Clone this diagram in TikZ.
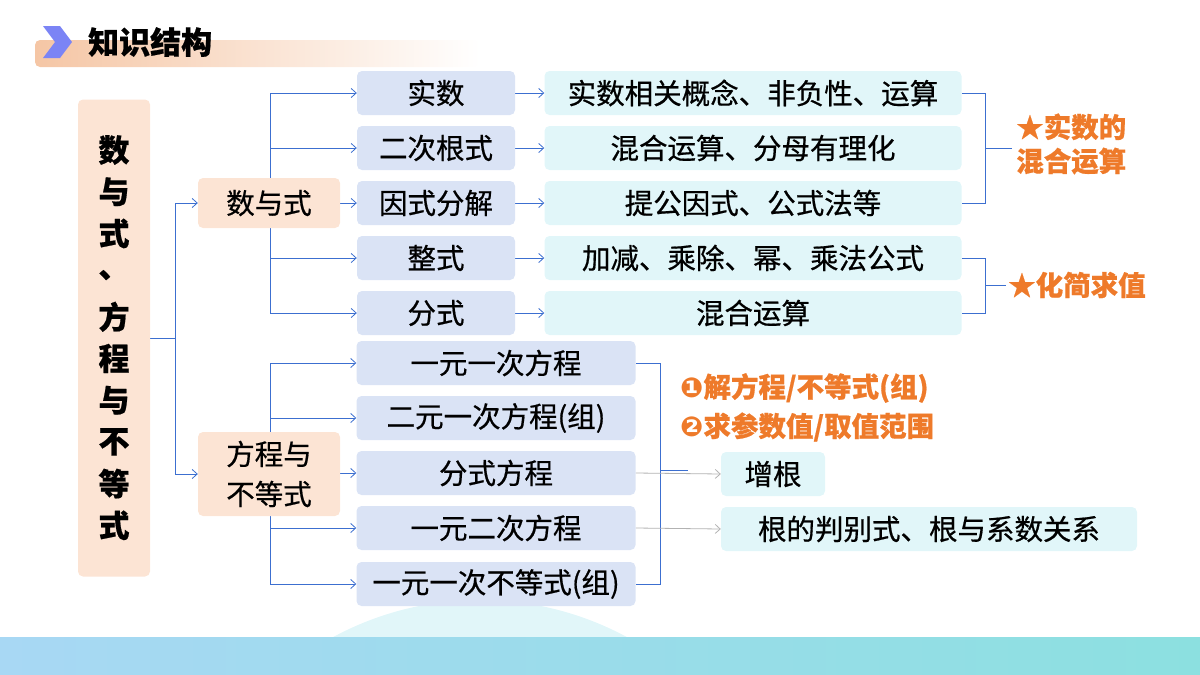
\documentclass[tikz,border=0pt]{standalone}
\usepackage{fontspec}
\setmainfont{Noto Sans CJK SC}[FakeBold=0.6]
\newfontfamily\djvfont{DejaVu Sans}
\usetikzlibrary{arrows.meta}
\pgfdeclarelayer{bg}
\pgfsetlayers{bg,main}
\definecolor{bl}{HTML}{3C6FD0}
\definecolor{orn}{HTML}{EE7A2A}
\definecolor{pk}{HTML}{FCE4D4}
\definecolor{lb}{HTML}{DAE3F5}
\definecolor{cy}{HTML}{E1F6F9}
\definecolor{bandl}{HTML}{A8D8F4}
\definecolor{bandr}{HTML}{8CE0E0}
\definecolor{peach}{HTML}{F5C6A5}
\tikzset{
 bx/.style={rounded corners=5pt,inner sep=0pt,font=\fontsize{28.5}{30}\selectfont},
 lv/.style={bx,fill=lb,minimum width=158pt,minimum height=44pt},
 lw/.style={bx,fill=lb,minimum width=279pt,minimum height=44pt},
 rt/.style={bx,fill=cy,minimum width=417pt,minimum height=44pt},
 pkb/.style={bx,fill=pk,minimum width=142pt},
 ln/.style={draw=bl,line width=0.8pt},
 ar/.style={ln,-{Straight Barb[length=5pt,width=9pt]}},
 ga/.style={draw=gray!60,line width=0.8pt,-{Straight Barb[length=5pt,width=9pt]}},
 ot/.style={text=orn,font=\fontsize{27.5}{32}\selectfont\bfseries,inner sep=0pt,anchor=west}
}
\begin{document}
\begin{tikzpicture}[x=1pt,y=-1pt]
\useasboundingbox (0,0) rectangle (1200,675);
% background
\begin{scope}
\clip (0,0) rectangle (1200,637);
\fill[cy] (480,909) circle (309);
\end{scope}
\shade[left color=bandl, right color=bandr] (0,637) rectangle (1200,675);
% title
\shade[rounded corners=5pt,left color=peach,right color=white] (35,40) rectangle (480,67);
\fill[color={rgb,255:red,123;green,132;blue,245}] (43,26) -- (60,26) -- (72,42) -- (60,58) -- (43,58) -- (55,42) -- cycle;
\node[anchor=west,inner sep=0pt,font=\fontsize{31}{32}\selectfont\bfseries] (title) at (88,42) {知识结构};
% root
\node[pkb,minimum width=72pt,minimum height=477pt] (root) at (114,338) {};
\foreach \c [count=\i from 0] in {数,与,式,、,方,程,与,不,等,式}
  \node[font=\fontsize{31}{32}\selectfont\bfseries,inner sep=0pt] at (114,{150+\i*41.7}) {\c};
\node[pkb,minimum height=50pt] (s) at (269,203) {数与式};
\node[pkb,minimum height=84pt,align=center,font=\fontsize{28.5}{40}\selectfont] (f) at (269,474) {方程与\\不等式};
% level 2 top
\node[lv] (a1) at (436,93) {实数};
\node[lv] (a2) at (436,148) {二次根式};
\node[lv] (a3) at (436,203) {因式分解};
\node[lv] (a4) at (436,258) {整式};
\node[lv] (a5) at (436,313) {分式};
\node[rt] (r1) at (753,93) {实数相关概念、非负性、运算};
\node[rt] (r2) at (753,148) {混合运算、分母有理化};
\node[rt] (r3) at (753,203) {提公因式、公式法等};
\node[rt] (r4) at (753,258) {加减、乘除、幂、乘法公式};
\node[rt] (r5) at (753,313) {混合运算};
% level 2 bottom
\node[lw] (b1) at (496,363) {一元一次方程};
\node[lw] (b2) at (496,418) {二元一次方程(组)};
\node[lw] (b3) at (496,473) {分式方程};
\node[lw] (b4) at (496,528) {一元二次方程};
\node[lw] (b5) at (496,584) {一元一次不等式(组)};
\node[bx,fill=cy,minimum width=104pt,minimum height=44pt] (z) at (773,474) {增根};
\node[rt,minimum width=416pt] (g) at (929,529) {根的判别式、根与系数关系};
% connectors
\begin{pgfonlayer}{bg}
\coordinate (j0) at (175,338);
\draw[ln] (root.east|-j0) -- (j0);
\draw[ar] (j0) |- (s.west);
\draw[ar] (j0) |- (f.west);
\foreach \n in {a1,a2,a4,a5} \draw[ar] (270,203) |- (\n.west);
\draw[ar] (s.east) -- (a3.west);
\foreach \n in {b1,b2,b3,b4,b5} \draw[ar] (270,473) |- (\n.west);
\foreach \i in {1,...,5} \draw[ar] (a\i.east) -- (r\i.west);
\draw[ln] (r1.east) -- (985,93) -- (985,203) -- (r3.east);
\draw[ln] (985,148) -- (1012,148);
\draw[ln] (r4.east) -- (985,258) -- (985,313) -- (r5.east);
\draw[ln] (985,285) -- (1006,285);
\draw[ln] (b1.east) -- (660,363) -- (660,584) -- (b5.east);
\draw[ln] (660,470) -- (688,470);
\draw[ga] (b3.east) -- (z.west);
\draw[ga] (b4.east) -- (g.west);
\end{pgfonlayer}
% orange notes
\node[ot,align=left,font=\fontsize{27.5}{34}\selectfont\bfseries] (n1) at (1016,144) {★实数的\\混合运算};
\node[ot] (n2) at (1008,285) {★化简求值};
\node[ot] (n3) at (680,388) {{\djvfont ❶}解方程/不等式(组)};
\node[ot] (n4) at (680,427) {{\djvfont ❷}求参数值/取值范围};
\end{tikzpicture}
\end{document}
